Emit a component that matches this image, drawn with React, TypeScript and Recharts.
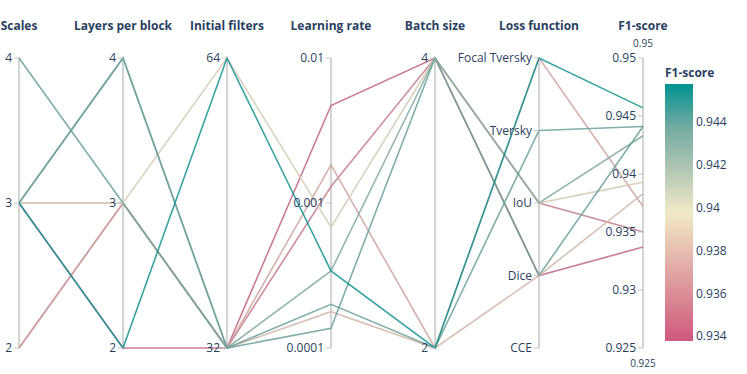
import React from "react";
import {
  LineChart,
  Line,
  XAxis,
  YAxis,
  ReferenceLine,
  ReferenceDot,
  ComposedChart,
  ReferenceArea,
} from "recharts";

// ---------- data ----------
const dimensions = [
  "Scales",
  "Layers per block",
  "Initial filters",
  "Learning rate",
  "Batch size",
  "Loss function",
  "F1-score",
];

const scalesValues = [3, 2, 2, 3, 3, 3, 3, 4, 3];
const layersValues = [2, 3, 3, 3, 3, 4, 4, 3, 2];
const filtersValues = [32, 32, 32, 32, 64, 32, 32, 32, 64];
const learningRates = [0.0047, 0.0013, 0.00183, 0.000178, 0.00068, 0.00034, 0.0002, 0.000137, 0.00034];
const batchValues = [4, 4, 2, 2, 4, 4, 2, 4, 2];
const lossValues = ["Dice", "IoU", "Focal Tversky", "Dice", "IoU", "IoU", "Tversky", "Dice", "Focal Tversky"];
const f1Values = [0.9337, 0.935, 0.9372, 0.9383, 0.9393, 0.9433, 0.9441, 0.9441, 0.9457];

const scalesTicks = [2, 3, 4];
const layersTicks = [2, 3, 4];
const filtersTicks = [32, 64];
const lrTicks = [0.0001, 0.001, 0.01];
const batchTicks = [2, 4];
const lossCategories = ["CCE", "Dice", "IoU", "Tversky", "Focal Tversky"];
const f1Ticks = [0.925, 0.93, 0.935, 0.94, 0.945, 0.95];
const colorbarTicks = [0.934, 0.936, 0.938, 0.94, 0.942, 0.944];
const colorMin = 0.93377;
const colorMax = 0.94578;

// tealrose (reversed: low = rose, high = teal)
const palette = [
  [208, 88, 126],
  [217, 137, 148],
  [229, 185, 173],
  [241, 234, 200],
  [177, 199, 179],
  [114, 170, 161],
  [0, 147, 146],
];

// ---------- helpers ----------
const lin = (min: number, max: number) => (v: number) => (v - min) / (max - min);
const logn = (min: number, max: number) => (v: number) =>
  (Math.log10(v) - Math.log10(min)) / (Math.log10(max) - Math.log10(min));

const normScales = lin(2, 4);
const normLayers = lin(2, 4);
const normFilters = lin(32, 64);
const normLr = logn(0.0001, 0.01);
const normBatch = lin(2, 4);
const normLoss = (c: string) => lossCategories.indexOf(c) / (lossCategories.length - 1);
const normF1 = lin(0.925, 0.95);

function colorFor(v: number, muted: number) {
  let t = (v - colorMin) / (colorMax - colorMin);
  t = Math.max(0, Math.min(1, t));
  const p = t * (palette.length - 1);
  const i = Math.min(palette.length - 2, Math.floor(p));
  const f = p - i;
  const a = palette[i];
  const b = palette[i + 1];
  const c = a.map((x, k) => x + (b[k] - x) * f);
  const g = 140;
  const m = c.map((x) => Math.round(x * (1 - muted) + g * muted));
  return `rgb(${m[0]},${m[1]},${m[2]})`;
}

const runCount = f1Values.length;
const columns: number[][] = [
  scalesValues.map(normScales),
  layersValues.map(normLayers),
  filtersValues.map(normFilters),
  learningRates.map(normLr),
  batchValues.map(normBatch),
  lossValues.map(normLoss),
  f1Values.map(normF1),
];

const chartData = dimensions.map((name, i) => {
  const row: Record<string, number | string> = { x: i, name };
  for (let r = 0; r < runCount; r++) row[`r${r}`] = columns[i][r];
  return row;
});

type TickDef = { dim: number; y: number; label: string };
const tickDefs: TickDef[] = [
  ...scalesTicks.map((t) => ({ dim: 0, y: normScales(t), label: String(t) })),
  ...layersTicks.map((t) => ({ dim: 1, y: normLayers(t), label: String(t) })),
  ...filtersTicks.map((t) => ({ dim: 2, y: normFilters(t), label: String(t) })),
  ...lrTicks.map((t) => ({ dim: 3, y: normLr(t), label: String(t) })),
  ...batchTicks.map((t) => ({ dim: 4, y: normBatch(t), label: String(t) })),
  ...lossCategories.map((c) => ({ dim: 5, y: normLoss(c), label: c })),
  ...f1Ticks.map((t) => ({ dim: 6, y: normF1(t), label: String(t) })),
];

const FONT = "'Open Sans', verdana, arial, sans-serif";
const TEXT = "#2a3f5f";

export default function App() {
  return (
    <div style={{ position: "absolute", left: 0, top: 0, width: 747, height: 374, background: "#fff", fontFamily: FONT }}>
      <div style={{ position: "absolute", left: 0, top: 0 }}>
        <LineChart
          width={747}
          height={374}
          data={chartData}
          margin={{ top: 58, right: 104, bottom: 26, left: 19 }}
        >
          <XAxis dataKey="x" type="number" domain={[0, 6]} hide />
          <YAxis type="number" domain={[0, 1]} hide />
          {dimensions.map((d, i) => (
            <ReferenceLine key={`ax${i}`} x={i} stroke="#d4d4d4" strokeWidth={2} ifOverflow="visible" />
          ))}
          {Array.from({ length: runCount }, (_, r) => (
            <Line
              key={`run${r}`}
              dataKey={`r${r}`}
              type="linear"
              stroke={colorFor(f1Values[r], r === runCount - 1 ? 0.12 : 0.25)}
              strokeWidth={1.6}
              strokeOpacity={0.85}
              dot={false}
              activeDot={false}
              isAnimationActive={false}
            />
          ))}
          {tickDefs.map((t, k) => (
            <ReferenceDot
              key={`tk${k}`}
              x={t.dim}
              y={t.y}
              r={0}
              ifOverflow="visible"
              shape={(p: any) => (
                <g>
                  <line x1={p.cx - 5} x2={p.cx} y1={p.cy} y2={p.cy} stroke="#c8c8c8" strokeWidth={1} />
                  <text
                    x={p.cx - 7}
                    y={p.cy}
                    dy="0.35em"
                    textAnchor="end"
                    fontFamily={FONT}
                    fontSize={12}
                    fill={TEXT}
                  >
                    {t.label}
                  </text>
                </g>
              )}
            />
          ))}
          {dimensions.map((d, i) => (
            <ReferenceDot
              key={`tt${i}`}
              x={i}
              y={1}
              r={0}
              ifOverflow="visible"
              shape={(p: any) => (
                <text
                  x={p.cx}
                  y={p.cy - 32}
                  dy="0.35em"
                  textAnchor="middle"
                  fontFamily={FONT}
                  fontSize={12}
                  fontWeight={700}
                  fill={TEXT}
                >
                  {d}
                </text>
              )}
            />
          ))}
          <ReferenceDot
            x={6}
            y={1}
            r={0}
            ifOverflow="visible"
            shape={(p: any) => (
              <text x={p.cx} y={p.cy - 15} dy="0.35em" textAnchor="middle" fontFamily={FONT} fontSize={10} fill={TEXT}>
                {String(f1Ticks[f1Ticks.length - 1])}
              </text>
            )}
          />
          <ReferenceDot
            x={6}
            y={0}
            r={0}
            ifOverflow="visible"
            shape={(p: any) => (
              <text x={p.cx} y={p.cy + 15} dy="0.35em" textAnchor="middle" fontFamily={FONT} fontSize={10} fill={TEXT}>
                {String(f1Ticks[0])}
              </text>
            )}
          />
        </LineChart>
      </div>
      <div
        style={{
          position: "absolute",
          left: 665,
          top: 65,
          fontFamily: FONT,
          fontSize: 12,
          fontWeight: 700,
          color: TEXT,
          lineHeight: "16px",
        }}
      >
        F1-score
      </div>
      <div style={{ position: "absolute", left: 660, top: 60 }}>
        <ComposedChart
          width={87}
          height={300}
          data={colorbarTicks.map((t) => ({ t }))}
          margin={{ top: 24, right: 0, bottom: 19, left: 5 }}
        >
          <defs>
            <linearGradient id="f1grad" x1="0" y1="0" x2="0" y2="1">
              {palette
                .slice()
                .reverse()
                .map((c, i) => (
                  <stop key={i} offset={i / (palette.length - 1)} stopColor={`rgb(${c[0]},${c[1]},${c[2]})`} />
                ))}
            </linearGradient>
          </defs>
          <XAxis hide dataKey="t" type="category" />
          <YAxis
            orientation="right"
            type="number"
            domain={[colorMin, colorMax]}
            ticks={colorbarTicks}
            width={54}
            axisLine={false}
            tickLine={false}
            tickSize={0}
            tickMargin={3}
            allowDataOverflow
            tick={{ fill: TEXT, fontSize: 12, fontFamily: FONT, textAnchor: "start" }}
            tickFormatter={(v: number) => String(v)}
          />
          <ReferenceArea y1={colorMin} y2={colorMax} fill="url(#f1grad)" fillOpacity={1} stroke="none" ifOverflow="visible" />
          <Line dataKey="t" stroke="none" dot={false} activeDot={false} isAnimationActive={false} />
        </ComposedChart>
      </div>
    </div>
  );
}
